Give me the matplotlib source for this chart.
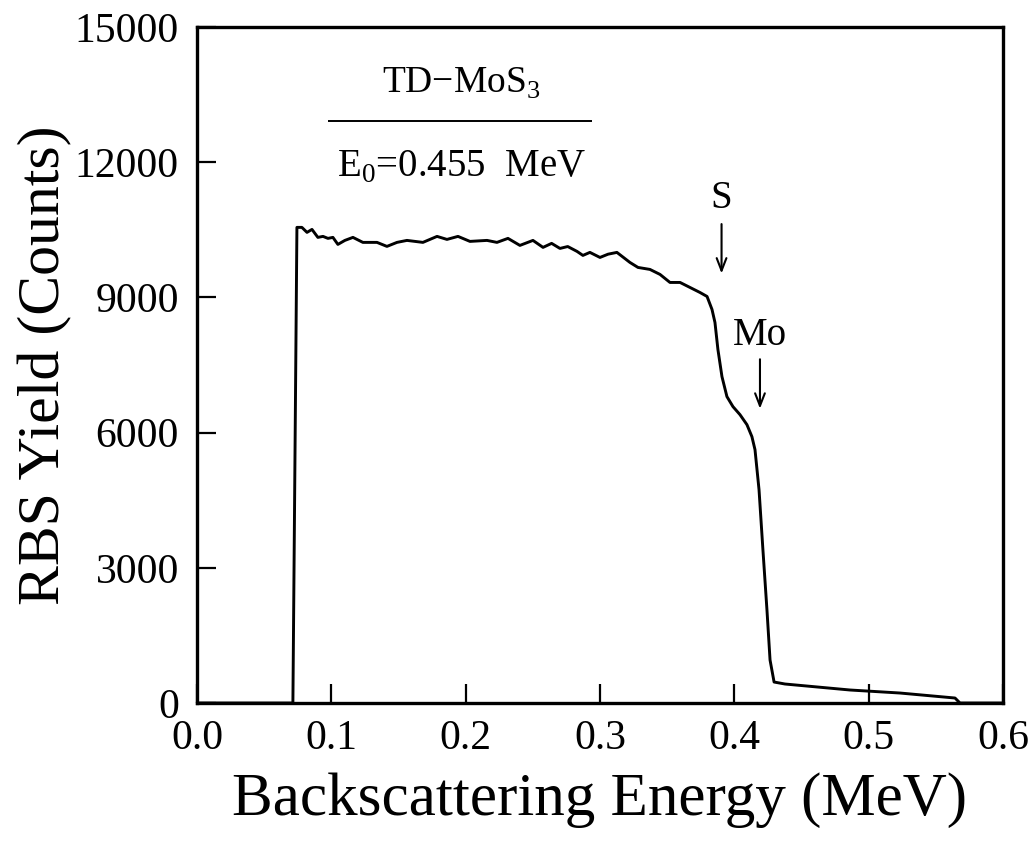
import numpy as np
import matplotlib
matplotlib.use("Agg")
import matplotlib.pyplot as plt

plt.rcParams['font.family'] = ['Liberation Serif', 'DejaVu Serif']
plt.rcParams['mathtext.fontset'] = 'custom'
plt.rcParams['mathtext.rm'] = 'Liberation Serif'

# RBS spectrum, TD-MoS3 film, E0 = 0.455 MeV
energy = [0.0, 0.0714, 0.0744, 0.0781, 0.0819, 0.0856, 0.0900, 0.0938, 0.0975,
          0.1012, 0.1049, 0.1101, 0.1161, 0.1235, 0.1340, 0.1414, 0.1489,
          0.1563, 0.1682, 0.1787, 0.1861, 0.1943, 0.2032, 0.2159, 0.2233,
          0.2315, 0.2404, 0.2501, 0.2576, 0.2640, 0.2702, 0.2760, 0.2829,
          0.2873, 0.2925, 0.3000, 0.3060, 0.3126, 0.3223, 0.3283, 0.3372,
          0.3447, 0.3521, 0.3596, 0.3670, 0.3744, 0.3797, 0.3834, 0.3856,
          0.3878, 0.3908, 0.3945, 0.3990, 0.4042, 0.4094, 0.4131, 0.4154,
          0.4184, 0.4213, 0.4243, 0.4266, 0.4296, 0.4377, 0.4861, 0.5233,
          0.5643, 0.568, 0.6]
counts = [0, 0, 10555, 10555, 10444, 10510, 10333, 10355, 10311,
          10333, 10177, 10266, 10333, 10222, 10222, 10133, 10222,
          10266, 10222, 10355, 10288, 10355, 10244, 10266, 10222,
          10311, 10155, 10266, 10111, 10200, 10088, 10130, 10022,
          9933, 10000, 9888, 9960, 10000, 9777, 9666, 9622,
          9511, 9333, 9333, 9222, 9111, 9022, 8733, 8444,
          7844, 7244, 6800, 6577, 6400, 6177, 5911, 5622,
          4733, 3400, 2066, 955, 466, 422, 289, 222,
          111, 0, 0]

xticks = [0.0, 0.1, 0.2, 0.3, 0.4, 0.5, 0.6]
yticks = [0, 3000, 6000, 9000, 12000, 15000]

# surface edge markers: (label, energy, text y, arrow top, arrow tip)
edges = [("S", 0.3905, 11200, 10690, 9470),
         ("Mo", 0.4191, 8150, 7690, 6470)]

fig = plt.figure(figsize=(10.34, 8.46), dpi=100)
ax = fig.add_axes([0.1905, 0.169, 0.7795, 0.799])

ax.plot(energy, counts, color='black', lw=2.1, solid_joinstyle='round')

ax.set_xlim(0.0, 0.6)
ax.set_ylim(0, 15000)
ax.set_xticks(xticks)
ax.set_xticklabels([f"{v:.1f}" for v in xticks])
ax.set_yticks(yticks)
ax.tick_params(direction='in', length=14, width=1.6, labelsize=30)
ax.tick_params(axis='x', pad=12)
ax.tick_params(axis='y', pad=13)
for s in ax.spines.values():
    s.set_linewidth(2.4)

ax.set_xlabel("Backscattering Energy (MeV)", fontsize=44, labelpad=10)
ax.set_ylabel("RBS Yield (Counts)", fontsize=43, labelpad=2)

# sample label
ax.text(0.197, 13750, r"TD$-$MoS$_3$", fontsize=27, ha='center', va='center')
ax.hlines(12910, 0.0975, 0.294, color='black', lw=1.4)
ax.text(0.197, 11900, r"E$_0$=0.455  MeV", fontsize=28, ha='center', va='center')

for name, x, ty, y0, y1 in edges:
    ax.text(x, ty, name, fontsize=28, ha='center', va='center')
    ax.annotate("", xy=(x, y1), xytext=(x, y0),
                arrowprops=dict(arrowstyle='->, head_length=0.9, head_width=0.35',
                                color='black', lw=1.5))

fig.savefig("out.png", dpi=100)
